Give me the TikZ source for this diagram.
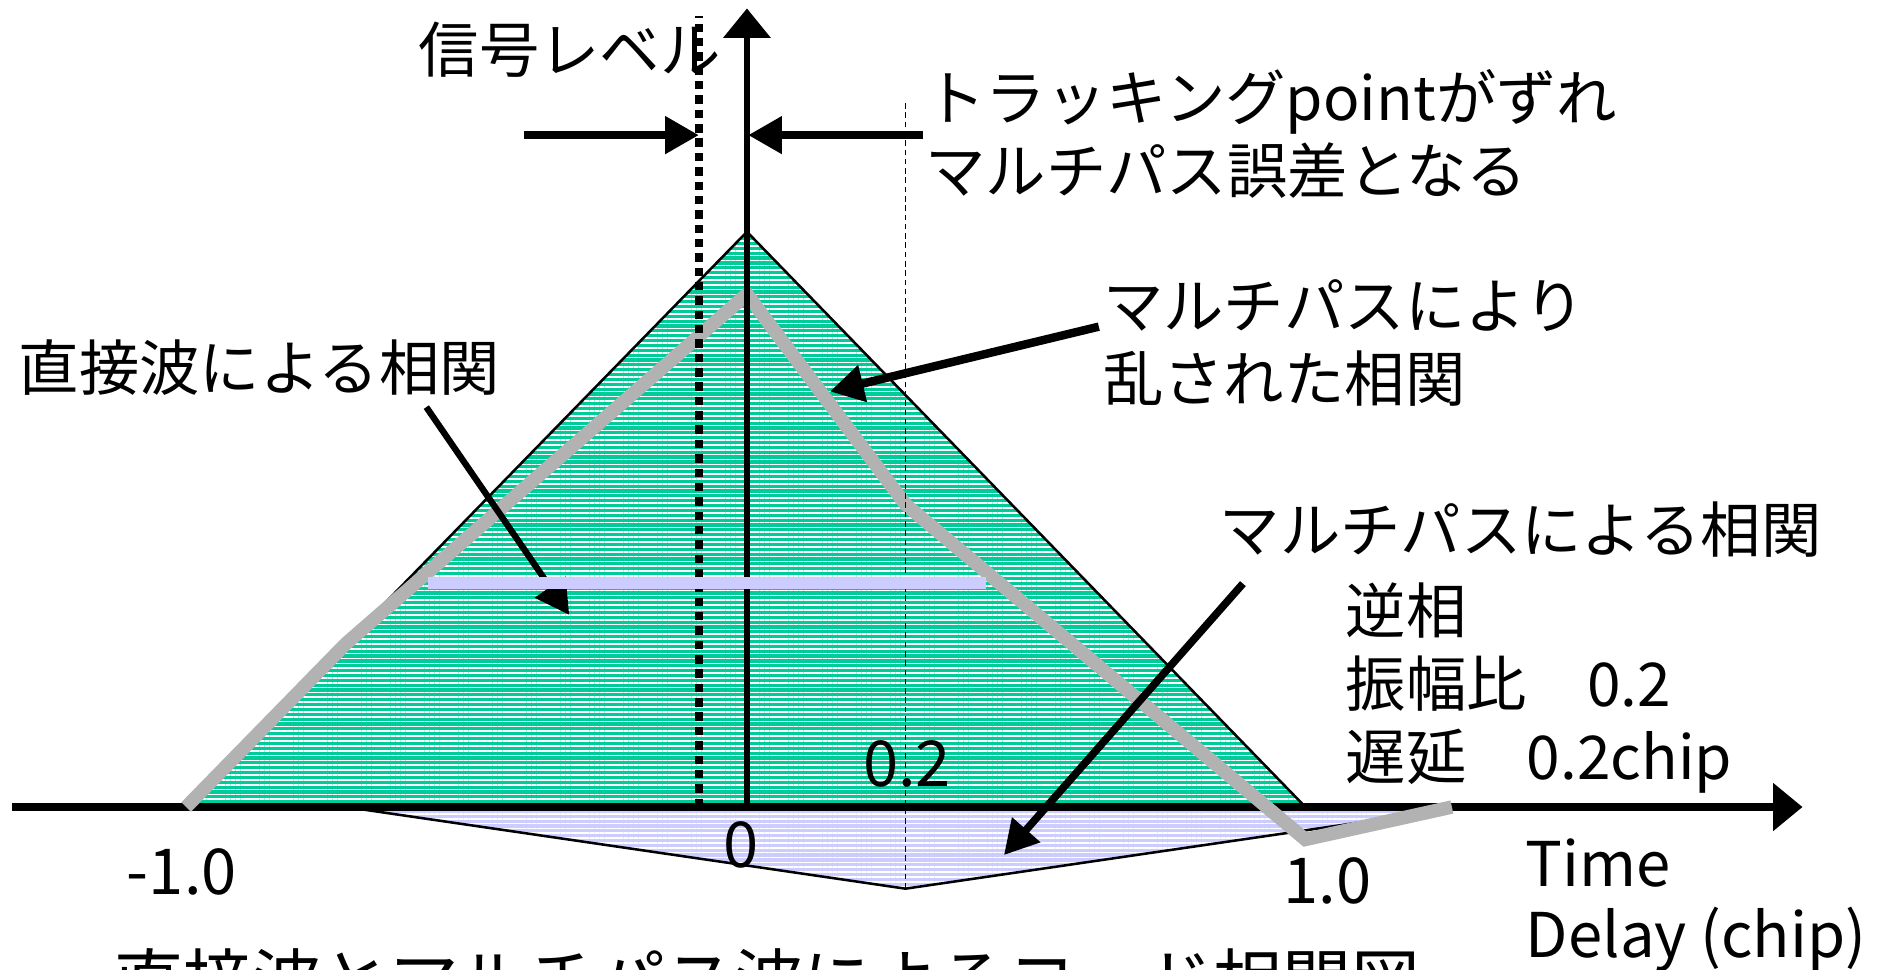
\documentclass[tikz,border=0pt]{standalone}
\usepackage{fontspec}
\setmainfont{Noto Sans CJK JP}
\usetikzlibrary{arrows.meta, patterns.meta}

\definecolor{directgreen}{RGB}{0,204,153}
\definecolor{mplavender}{RGB}{204,204,255}
\definecolor{sumgray}{RGB}{178,178,178}

\tikzset{
  lbl/.style={inner sep=0pt, anchor=base west, align=left, font=\fontsize{14.3pt}{17.3pt}\selectfont},
  numlbl/.style={inner sep=0pt, anchor=base west, font=\fontsize{15pt}{16.8pt}\selectfont},
  hatch/.style={pattern={Lines[angle=0,distance=1.15pt,line width=0.4pt]}, pattern color=white},
  axisline/.style={-{Triangle[length=7pt,width=11pt]}},
  pointer/.style={line width=1.8pt, -{Triangle[length=8pt,width=8.5pt]}}
}

\begin{document}
\begin{tikzpicture}
  \useasboundingbox (-6.22,-1.35) rectangle (9.46,6.72);

  % Points of the correlation curves
  \coordinate (dl) at (-4.67,0);
  \coordinate (dtop) at (0,4.79);
  \coordinate (dr) at (4.65,0);
  \coordinate (ml) at (-3.34,0);
  \coordinate (mbot) at (1.32,-0.68);
  \coordinate (mr) at (5.98,0);

  % Direct and multipath correlation
  \fill[directgreen] (dl) -- (dtop) -- (dr) -- cycle;
  \fill[hatch] (dl) -- (dtop) -- (dr) -- cycle;
  \draw[line width=0.6pt] (dl) -- (dtop) -- (dr);
  \fill[mplavender] (ml) -- (mbot) -- (mr) -- cycle;
  \fill[hatch] (ml) -- (mbot) -- (mr) -- cycle;
  \draw[line width=0.6pt] (ml) -- (mbot) -- (mr);

  % Axes
  \coordinate (origin) at (0,0);
  \coordinate (xstart) at (-6.12,0);
  \coordinate (xend) at (8.79,0);
  \coordinate (yend) at (0,6.65);
  \draw[axisline, line width=1.9pt] (xstart) -- (xend);

  % Sum of both
  \draw[sumgray, line width=3.2pt] (dl) -- (-3.34,1.36) -- (0,4.27) -- (1.32,2.52) -- (4.65,-0.27) -- (5.87,0);

  % Tracking points
  \coordinate (trackold) at (-0.40,0);
  \coordinate (tracktop) at (-0.40,6.59);
  \coordinate (delaybot) at (mbot);
  \coordinate (delaytop) at (1.32,5.86);
  \draw[line width=0.45pt, dash pattern=on 1.3pt off 0.9pt] (delaybot) -- (delaytop);
  \draw[line width=2pt, dash pattern=on 2pt off 1.4pt] (trackold) -- (tracktop);
  \draw[axisline, line width=1.4pt] (origin) -- (yend);

  % Labels
  \node[lbl] (level) at (-2.74,6.12) {信号レベル};
  \node[lbl] (shift) at (1.48,5.11) {トラッキングpointがずれ\\マルチパス誤差となる};
  \node[lbl] (dist) at (2.96,3.38) {マルチパスにより\\乱された相関};
  \node[lbl] (direct) at (-6.07,3.47) {直接波による相関};
  \node[lbl] (mp) at (3.93,2.12) {マルチパスによる相関};
  \node[lbl] (param) at (4.98,0.23) {逆相\\振幅比　0.2\\遅延　0.2chip};
  \node[numlbl] (tick02) at (0.96,0.17) {0.2};
  \node[numlbl] (tick0) at (-0.20,-0.50) {0};
  \node[numlbl] (tickm1) at (-5.17,-0.73) {-1.0};
  \node[numlbl] (tick1) at (4.46,-0.80) {1.0};
  \node[numlbl, align=left, font=\fontsize{14.6pt}{16.8pt}\selectfont] (xname) at (6.48,-1.25) {Time\\Delay (chip)};
  \node[inner sep=0pt, anchor=base west, font=\fontsize{16.3pt}{19pt}\selectfont] (caption) at (-5.27,-1.66) {直接波とマルチパス波によるコード相関図};

  % Arrows
  \coordinate (lfrom) at (-1.86,5.595);
  \coordinate (lto) at (-0.40,5.595);
  \coordinate (rfrom) at (1.47,5.595);
  \coordinate (rto) at (0.01,5.595);
  \draw[pointer, line width=1.9pt] (lfrom) -- (lto);
  \draw[pointer, line width=1.9pt] (rfrom) -- (rto);
  \coordinate (directfrom) at (-2.67,3.33);
  \coordinate (directto) at (-1.48,1.60);
  \coordinate (distfrom) at (2.93,4.00);
  \coordinate (distto) at (0.69,3.46);
  \coordinate (mpfrom) at (4.13,1.86);
  \coordinate (mpto) at (2.14,-0.40);
  \draw[pointer, line width=1.5pt] (directfrom) -- (directto);
  \draw[pointer, line width=2pt] (distfrom) -- (distto);
  \draw[pointer] (mpfrom) -- (mpto);

  % Band across the peak
  \coordinate (bandl) at (-2.66,1.865);
  \coordinate (bandr) at (1.99,1.865);
  \draw[mplavender, line width=3pt] (bandl) -- (bandr);
\end{tikzpicture}
\end{document}
